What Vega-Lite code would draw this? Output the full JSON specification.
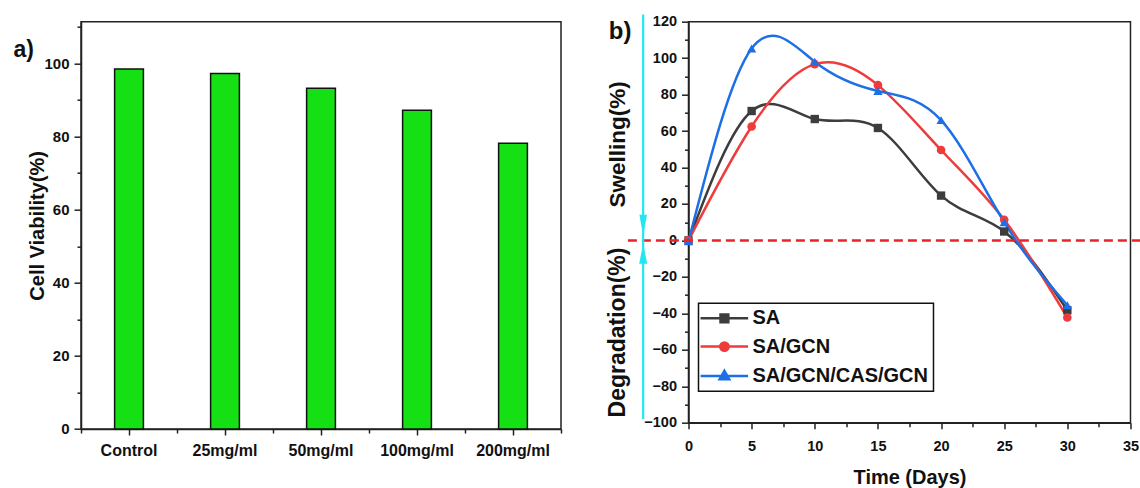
{
  "$schema": "https://vega.github.io/schema/vega-lite/v6.json",
  "padding": {"left": 12, "top": 11.7, "right": 0, "bottom": 0},
  "background": "white",
  "bounds": "flush",
  "spacing": 127.5,
  "resolve": {"legend": {"color": "independent"}},
  "config": {
    "font": "Liberation Sans",
    "view": {"stroke": "#222", "strokeWidth": 1.5},
    "axis": {
      "grid": false, "domainColor": "#222", "domainWidth": 1.5, "tickColor": "#222", "tickWidth": 1.5,
      "labelColor": "#111", "labelFont": "Liberation Sans", "labelFontWeight": "bold",
      "titleFont": "Liberation Sans", "titleFontWeight": "bold", "titleColor": "#111",
      "labelFlush": false, "labelOverlap": false, "labelBound": false
    }
  },
  "datasets": {
    "cells": [
      {"group": "Control", "viability": 98.5},
      {"group": "25mg/ml", "viability": 97.3},
      {"group": "50mg/ml", "viability": 93.2},
      {"group": "100mg/ml", "viability": 87.2},
      {"group": "200mg/ml", "viability": 78.2}
    ],
    "swell": [
      {"day": 0, "series": "SA", "value": 0},
      {"day": 5, "series": "SA", "value": 71},
      {"day": 10, "series": "SA", "value": 66.6},
      {"day": 15, "series": "SA", "value": 61.7},
      {"day": 20, "series": "SA", "value": 24.6},
      {"day": 25, "series": "SA", "value": 4.9},
      {"day": 30, "series": "SA", "value": -38.3},
      {"day": 0, "series": "SA/GCN", "value": 0},
      {"day": 5, "series": "SA/GCN", "value": 62.5},
      {"day": 10, "series": "SA/GCN", "value": 96.7},
      {"day": 15, "series": "SA/GCN", "value": 85.2},
      {"day": 20, "series": "SA/GCN", "value": 49.6},
      {"day": 25, "series": "SA/GCN", "value": 11.3},
      {"day": 30, "series": "SA/GCN", "value": -42.3},
      {"day": 0, "series": "SA/GCN/CAS/GCN", "value": -0.5},
      {"day": 5, "series": "SA/GCN/CAS/GCN", "value": 105.3},
      {"day": 10, "series": "SA/GCN/CAS/GCN", "value": 98},
      {"day": 15, "series": "SA/GCN/CAS/GCN", "value": 82},
      {"day": 20, "series": "SA/GCN/CAS/GCN", "value": 66},
      {"day": 25, "series": "SA/GCN/CAS/GCN", "value": 10},
      {"day": 30, "series": "SA/GCN/CAS/GCN", "value": -35.6}
    ]
  },
  "hconcat": [
    {
      "width": 480,
      "height": 407.3,
      "title": {"text": "a)", "anchor": "start", "frame": "group", "orient": "top", "align": "left", "baseline": "alphabetic", "dx": -67.5, "dy": 58, "offset": 0, "fontSize": 23, "fontWeight": "bold", "color": "#111", "font": "Liberation Sans"},
      "data": {"name": "cells"},
      "layer": [
        {
          "mark": {"type": "bar", "width": {"band": 0.3}, "fill": "#14e014", "stroke": "#111", "strokeWidth": 1.5},
          "encoding": {
            "x": {"field": "group", "type": "nominal", "sort": null, "scale": {"paddingInner": 0, "paddingOuter": 0},
                  "axis": {"orient": "bottom", "title": null, "labelAngle": 0, "labelFontSize": 16, "tickSize": 6, "labelPadding": 8}},
            "y": {"field": "viability", "type": "quantitative", "scale": {"domain": [0, 111.44], "nice": false},
                  "axis": {"orient": "left", "values": [0, 20, 40, 60, 80, 100], "labelFontSize": 15, "tickSize": 7, "labelPadding": 5,
                           "title": "Cell Viability(%)", "titleFontSize": 20, "titlePadding": -4}}
          }
        },
        {
          "mark": {"type": "bar", "opacity": 0},
          "encoding": {
            "x": {"field": "group", "type": "nominal", "sort": null,
                  "axis": {"orient": "bottom", "tickBand": "extent", "labels": false, "domain": false, "title": null, "tickSize": 4}},
            "y": {"field": "viability", "type": "quantitative",
                  "axis": {"orient": "left", "values": [10, 30, 50, 70, 90, 110], "labels": false, "domain": false, "title": null, "tickSize": 4}}
          }
        }
      ],
      "resolve": {"axis": {"x": "independent", "y": "independent"}}
    },
    {
      "width": 442,
      "height": 401,
      "data": {"name": "swell"},
      "layer": [
        {
          "mark": {"type": "line", "interpolate": "natural", "strokeWidth": 2.5},
          "encoding": {
            "x": {"field": "day", "type": "quantitative", "scale": {"domain": [0, 35], "nice": false, "zero": false},
                  "axis": {"orient": "bottom", "values": [0, 5, 10, 15, 20, 25, 30, 35], "labelFontSize": 14.5, "tickSize": 6, "labelPadding": 10.5,
                           "title": "Time (Days)", "titleFontSize": 20, "titlePadding": 14.5}},
            "y": {"field": "value", "type": "quantitative", "scale": {"domain": [-100, 120], "nice": false},
                  "axis": {"orient": "left", "values": [-100, -80, -60, -40, -20, 0, 20, 40, 60, 80, 100, 120], "labelFontSize": 14.5, "tickSize": 7, "labelPadding": 5, "title": null}},
            "color": {"field": "series", "type": "nominal",
                      "scale": {"domain": ["SA", "SA/GCN", "SA/GCN/CAS/GCN"], "range": ["#3d3d3d", "#ee3b3b", "#1c6fe6"]},
                      "legend": {
                        "orient": "none", "legendX": 10, "legendY": 281.6, "title": null, "direction": "vertical",
                        "labelFontSize": 20, "labelFontWeight": "bold", "labelColor": "#111", "labelFont": "Liberation Sans", "labelLimit": 0,
                        "symbolSize": 144, "symbolStrokeWidth": 2.5, "labelOffset": 29,
                        "strokeColor": "#111", "padding": 5, "rowPadding": 8.3, "fillColor": "white",
                        "encode": {
                          "symbols": {"update": {
                            "shape": {"signal": "datum.value === 'SA' ? 'M-2.16,0H5.77M1.17,-0.65H2.47V0.65H1.17Z' : datum.value === 'SA/GCN' ? 'M-2.16,0H5.77M1.12,0A0.7,0.7 0 1,0 2.52,0A0.7,0.7 0 1,0 1.12,0Z' : 'M-2.16,0H5.77M1.82,-0.85L2.62,0.55L1.02,0.55Z'"},
                            "fill": {"signal": "datum.value === 'SA' ? '#3d3d3d' : datum.value === 'SA/GCN' ? '#ee3b3b' : '#1c6fe6'"},
                            "stroke": {"signal": "datum.value === 'SA' ? '#3d3d3d' : datum.value === 'SA/GCN' ? '#ee3b3b' : '#1c6fe6'"},
                            "strokeWidth": {"value": 2.5},
                            "opacity": {"value": 1}
                          }},
                          "legend": {"update": {"strokeWidth": {"value": 1.5}}}
                        }
                      }}
          }
        },
        {
          "transform": [{"filter": "datum.series === 'SA'"}],
          "mark": {"type": "point", "filled": true, "opacity": 1, "size": 70, "shape": "square"},
          "encoding": {
            "x": {"field": "day", "type": "quantitative",
                  "axis": {"orient": "bottom", "values": [2.5, 7.5, 12.5, 17.5, 22.5, 27.5, 32.5], "labels": false, "domain": false, "title": null, "tickSize": 4}},
            "y": {"field": "value", "type": "quantitative",
                  "axis": {"orient": "left", "values": [-90, -70, -50, -30, -10, 10, 30, 50, 70, 90, 110], "labels": false, "domain": false, "title": null, "tickSize": 4}},
            "color": {"field": "series", "type": "nominal", "legend": null}
          }
        },
        {
          "transform": [{"filter": "datum.series === 'SA/GCN'"}],
          "mark": {"type": "point", "filled": true, "opacity": 1, "size": 75, "shape": "circle"},
          "encoding": {
            "x": {"field": "day", "type": "quantitative", "axis": null},
            "y": {"field": "value", "type": "quantitative", "axis": null},
            "color": {"field": "series", "type": "nominal", "legend": null}
          }
        },
        {
          "transform": [{"filter": "datum.series === 'SA/GCN/CAS/GCN'"}],
          "mark": {"type": "point", "filled": true, "opacity": 1, "size": 85, "shape": "triangle-up"},
          "encoding": {
            "x": {"field": "day", "type": "quantitative", "axis": null},
            "y": {"field": "value", "type": "quantitative", "axis": null},
            "color": {"field": "series", "type": "nominal", "legend": null}
          }
        },
        {
          "data": {"values": [{}]},
          "mark": {"type": "rule", "color": "#e8242a", "strokeWidth": 2.5, "strokeDash": [9, 5]},
          "encoding": {"x": {"datum": -4.8, "axis": null}, "x2": {"datum": 36}, "y": {"datum": 0, "axis": null}}
        },
        {
          "data": {"values": [{}]},
          "mark": {"type": "rule", "color": "#22e6f0", "strokeWidth": 2.2},
          "encoding": {"x": {"datum": -3.59, "axis": null}, "y": {"datum": 124, "axis": null}, "y2": {"datum": -98}}
        },
        {
          "data": {"values": [{}]},
          "mark": {"type": "point", "filled": true, "opacity": 1, "color": "#22e6f0", "size": 441, "shape": "M-0.36,-1L0.36,-1L0,1Z"},
          "encoding": {"x": {"datum": -3.59, "axis": null}, "y": {"datum": 8.3, "axis": null}}
        },
        {
          "data": {"values": [{}]},
          "mark": {"type": "point", "filled": true, "opacity": 1, "color": "#22e6f0", "size": 400, "shape": "M-0.4,1L0.4,1L0,-1Z"},
          "encoding": {"x": {"datum": -3.59, "axis": null}, "y": {"datum": -7.3, "axis": null}}
        },
        {
          "data": {"values": [{}]},
          "mark": {"type": "text", "text": "Swelling(%)", "angle": 270, "fontSize": 22.5, "fontWeight": "bold", "align": "center", "baseline": "middle", "color": "#111"},
          "encoding": {"x": {"datum": -5.57, "axis": null}, "y": {"datum": 52.7, "axis": null}}
        },
        {
          "data": {"values": [{}]},
          "mark": {"type": "text", "text": "Degradation(%)", "angle": 270, "fontSize": 23, "fontWeight": "bold", "align": "center", "baseline": "middle", "color": "#111"},
          "encoding": {"x": {"datum": -5.57, "axis": null}, "y": {"datum": -50.5, "axis": null}}
        },
        {
          "data": {"values": [{}]},
          "mark": {"type": "text", "text": "b)", "fontSize": 24, "fontWeight": "bold", "align": "center", "baseline": "middle", "color": "#111"},
          "encoding": {"x": {"datum": -5.42, "axis": null}, "y": {"datum": 114.4, "axis": null}}
        }
      ],
      "resolve": {"axis": {"x": "independent", "y": "independent"}}
    }
  ]
}
